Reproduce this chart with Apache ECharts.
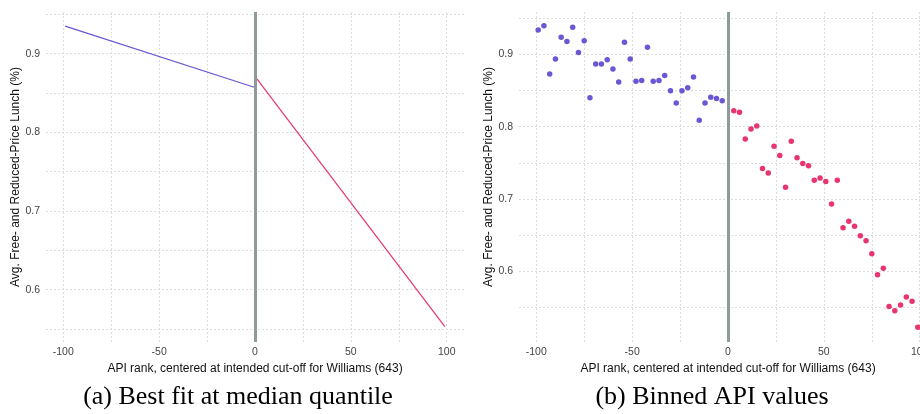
<!DOCTYPE html>
<html>
<head>
<meta charset="utf-8">
<script src="https://cdn.jsdelivr.net/npm/echarts@6/dist/echarts.min.js"></script>
<style>
html, body { margin: 0; padding: 0; background: #fff; }
#container { width: 920px; height: 414px; }
</style>
</head>
<body>
<div id="container"></div>
<script>
// (a) fitted lines on each side of the cut-off
var fitLeftX = [-99, 0];
var fitLeftY = [0.935, 0.857];
var fitRightX = [1, 99];
var fitRightY = [0.868, 0.553];

// (b) binned means, 3-point bins
var binLeftX = [-99, -96, -93, -90, -87, -84, -81, -78, -75, -72, -69, -66, -63, -60, -57, -54, -51,
                -48, -45, -42, -39, -36, -33, -30, -27, -24, -21, -18, -15, -12, -9, -6, -3];
var binLeftY = [0.934, 0.940, 0.873, 0.894, 0.924, 0.918, 0.938, 0.903, 0.919, 0.840, 0.887, 0.887, 0.893, 0.880, 0.862, 0.917, 0.894,
                0.863, 0.864, 0.910, 0.863, 0.864, 0.871, 0.850, 0.833, 0.850, 0.854, 0.869, 0.809, 0.833, 0.841, 0.839, 0.836];
var binRightX = [3, 6, 9, 12, 15, 18, 21, 24, 27, 30, 33, 36, 39, 42, 45, 48, 51,
                 54, 57, 60, 63, 66, 69, 72, 75, 78, 81, 84, 87, 90, 93, 96, 99];
var binRightY = [0.822, 0.820, 0.783, 0.797, 0.801, 0.742, 0.736, 0.773, 0.760, 0.716, 0.780, 0.757, 0.749, 0.746, 0.726, 0.729, 0.724,
                 0.693, 0.726, 0.660, 0.669, 0.662, 0.649, 0.642, 0.624, 0.595, 0.604, 0.551, 0.545, 0.553, 0.564, 0.558, 0.522];

var xTitle = 'API rank, centered at intended cut-off for Williams (643)';
var yTitle = 'Avg. Free- and Reduced-Price Lunch (%)';
var captions = ['(a) Best fit at median quantile', '(b) Binned API values'];

var blue = '#6a57d3';
var pink = '#e8356d';
var gridColor = '#dcdcdc';
var sans = 'Liberation Sans';

function zip(xs, ys) {
    var res = [];
    for (var i = 0; i < xs.length; i++) res.push([xs[i], ys[i]]);
    return res;
}

var dash = {color: gridColor, type: [2, 2], width: 1};

function xAxisFor(idx) {
    return {
        type: 'value', gridIndex: idx, min: -109, max: 109, splitNumber: 4,
        name: xTitle, nameLocation: 'middle', nameGap: 15,
        nameTextStyle: {color: '#111', fontSize: 12, fontFamily: sans},
        axisLine: {show: false}, axisTick: {show: false},
        axisLabel: {color: '#444', fontSize: 10.5, margin: 5, fontFamily: sans,
                    showMinLabel: false, showMaxLabel: false},
        splitLine: {show: true, showMinLine: false, showMaxLine: false, lineStyle: dash},
        minorTick: {show: false, splitNumber: 2},
        minorSplitLine: {show: true, lineStyle: dash}
    };
}

function yAxisFor(idx, lo, hi) {
    return {
        type: 'value', gridIndex: idx, min: lo, max: hi, splitNumber: 4,
        name: yTitle, nameLocation: 'middle', nameGap: 23, nameRotate: 90,
        nameTextStyle: {color: '#111', fontSize: 12, fontFamily: sans},
        axisLine: {show: false}, axisTick: {show: false},
        axisLabel: {color: '#444', fontSize: 10.5, margin: 6, fontFamily: sans,
                    showMinLabel: false, showMaxLabel: false},
        splitLine: {show: true, showMinLine: false, showMaxLine: false, lineStyle: dash},
        minorTick: {show: false, splitNumber: 2},
        minorSplitLine: {show: true, lineStyle: dash}
    };
}

var cutLine = {
    silent: true, symbol: 'none',
    label: {show: false},
    lineStyle: {color: '#8c9c9b', width: 3, type: 'solid'},
    emphasis: {disabled: true},
    data: [{xAxis: 0}]
};

var dom = document.getElementById('container');
var myChart = echarts.init(dom, null, {renderer: 'canvas'});

myChart.setOption({
    backgroundColor: '#fff',
    animation: false,
    grid: [
        {left: 46, right: 456, top: 12, bottom: 72, outerBoundsMode: 'none', containLabel: false},
        {left: 519, right: -17, top: 12, bottom: 72, outerBoundsMode: 'none', containLabel: false}
    ],
    xAxis: [xAxisFor(0), xAxisFor(1)],
    yAxis: [yAxisFor(0, 0.5335, 0.953), yAxisFor(1, 0.5017, 0.959)],
    series: [
        {
            type: 'line', xAxisIndex: 0, yAxisIndex: 0,
            data: zip(fitLeftX, fitLeftY), showSymbol: false,
            lineStyle: {color: blue, width: 1.2}, itemStyle: {color: blue}
        },
        {
            type: 'line', xAxisIndex: 0, yAxisIndex: 0,
            data: zip(fitRightX, fitRightY), showSymbol: false,
            lineStyle: {color: pink, width: 1.2}, itemStyle: {color: pink},
            markLine: cutLine
        },
        {
            type: 'scatter', xAxisIndex: 1, yAxisIndex: 1,
            data: zip(binLeftX, binLeftY), symbolSize: 5.5,
            itemStyle: {color: blue, opacity: 1}
        },
        {
            type: 'scatter', xAxisIndex: 1, yAxisIndex: 1,
            data: zip(binRightX, binRightY), symbolSize: 5.5,
            itemStyle: {color: pink, opacity: 1},
            markLine: cutLine
        }
    ],
    graphic: [
        {type: 'text', x: 238, y: 397,
         style: {text: captions[0], align: 'center', verticalAlign: 'middle', fill: '#000',
                 font: '26px "Liberation Serif"'}},
        {type: 'text', x: 712, y: 397,
         style: {text: captions[1], align: 'center', verticalAlign: 'middle', fill: '#000',
                 font: '26px "Liberation Serif"'}}
    ]
});
</script>
</body>
</html>
